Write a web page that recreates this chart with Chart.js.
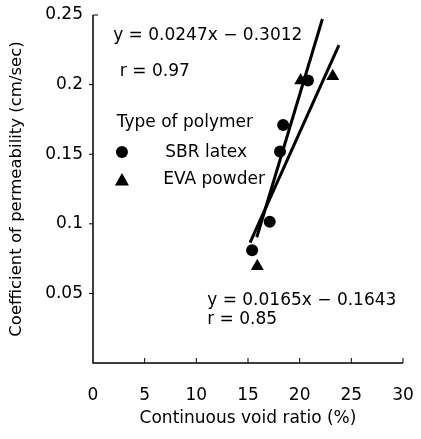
<!DOCTYPE html>
<html>
<head>
<meta charset="utf-8">
<script src="https://cdn.jsdelivr.net/npm/chart.js@4/dist/chart.umd.min.js"></script>
<style>
  html, body { margin: 0; padding: 0; background: #fff; }
  #wrap { width: 421px; height: 439px; }
</style>
</head>
<body>
<div id="wrap"><canvas id="chart" width="421" height="439"></canvas></div>
<script>
// values
const xTicks = [0, 5, 10, 15, 20, 25, 30];
const yTicks = [0, 0.05, 0.1, 0.15, 0.2, 0.25];

const sbrX = [15.4, 17.1, 18.1, 18.4, 20.8];
const sbrY = [0.081, 0.1015, 0.152, 0.171, 0.203];

const evaX = [15.9, 20.1, 23.2];
const evaY = [0.0695, 0.203, 0.206];

// fitted lines, end points as drawn
const sbrFitX = [15.85, 22.2];
const sbrFitY = [0.0903, 0.2471];
const evaFitX = [15.2, 23.8];
const evaFitY = [0.0865, 0.2284];

const notes = [
    { text: 'y = 0.0247x \u2212 0.3012', x: 1.95, y: 0.235 },
    { text: 'r = 0.97', x: 2.6, y: 0.209 },
    { text: 'Type of polymer', x: 2.3, y: 0.1725 },
    { text: 'SBR latex', x: 7.0, y: 0.1515 },
    { text: 'EVA powder', x: 6.8, y: 0.1315 },
    { text: 'y = 0.0165x \u2212 0.1643', x: 11.05, y: 0.0445 },
    { text: 'r = 0.85', x: 11.05, y: 0.0315 }
];
const legendMarks = [
    { style: 'circle', x: 2.8, y: 0.1515 },
    { style: 'triangle', x: 2.8, y: 0.1315 }
];

const FAMILY = '"DejaVu Sans", "Liberation Sans", Arial, sans-serif';
const FONT = '17px ' + FAMILY;
const pts = (xs, ys) => xs.map((x, i) => ({ x: x, y: ys[i] }));

const axesPlugin = {
    id: 'axes',
    afterDraw(chart) {
        const ctx = chart.ctx;
        const xs = chart.scales.x, ys = chart.scales.y;
        const a = chart.chartArea;
        ctx.save();
        ctx.strokeStyle = '#000';
        ctx.lineWidth = 1.5;
        ctx.beginPath();
        ctx.moveTo(a.left, a.top);
        ctx.lineTo(a.left, a.bottom);
        ctx.lineTo(a.right, a.bottom);
        ctx.stroke();
        ctx.lineWidth = 1;
        ctx.beginPath();
        xTicks.forEach(v => {
            if (v === 0) return;
            const px = xs.getPixelForValue(v);
            ctx.moveTo(px, a.bottom);
            ctx.lineTo(px, a.bottom - 5);
        });
        yTicks.forEach(v => {
            if (v === 0) return;
            const py = ys.getPixelForValue(v);
            if (v === 0.25) { ctx.moveTo(a.left, py); ctx.lineTo(a.left + 5, py); }
            else { ctx.moveTo(a.left, py); ctx.lineTo(a.left - 4, py); }
        });
        ctx.stroke();

        ctx.fillStyle = '#000';
        ctx.font = FONT;
        ctx.textBaseline = 'middle';
        ctx.textAlign = 'left';
        notes.forEach(n => ctx.fillText(n.text, xs.getPixelForValue(n.x), ys.getPixelForValue(n.y)));
        legendMarks.forEach(m => {
            const px = xs.getPixelForValue(m.x), py = ys.getPixelForValue(m.y);
            ctx.beginPath();
            if (m.style === 'circle') {
                ctx.arc(px, py, 6, 0, Math.PI * 2);
            } else {
                ctx.moveTo(px, py - 7);
                ctx.lineTo(px + 7, py + 5.5);
                ctx.lineTo(px - 7, py + 5.5);
                ctx.closePath();
            }
            ctx.fill();
        });
        ctx.restore();
    }
};

new Chart(document.getElementById('chart'), {
    type: 'scatter',
    data: {
        datasets: [
            { label: 'SBR fit', type: 'line', data: pts(sbrFitX, sbrFitY), borderColor: '#000', borderWidth: 3, pointRadius: 0, showLine: true, fill: false },
            { label: 'EVA fit', type: 'line', data: pts(evaFitX, evaFitY), borderColor: '#000', borderWidth: 3, pointRadius: 0, showLine: true, fill: false },
            { label: 'SBR latex', data: pts(sbrX, sbrY), pointStyle: 'circle', pointRadius: 6, backgroundColor: '#000', borderColor: '#000', borderWidth: 0 },
            { label: 'EVA powder', data: pts(evaX, evaY), pointStyle: 'triangle', pointRadius: 7.5, backgroundColor: '#000', borderColor: '#000', borderWidth: 0 }
        ]
    },
    options: {
        responsive: false,
        animation: false,
        layout: { padding: { top: 15, right: 18, bottom: 0, left: 7 } },
        plugins: { legend: { display: false }, tooltip: { enabled: false } },
        scales: {
            x: {
                type: 'linear', min: 0, max: 30,
                afterFit(s) { s.height = 76; s.paddingLeft = 0; s.paddingRight = 0; },
                afterBuildTicks(s) { s.ticks = xTicks.map(v => ({ value: v })); },
                grid: { display: false, drawTicks: false },
                border: { display: false },
                ticks: { color: '#000', font: { family: FAMILY, size: 17 }, padding: 22, maxRotation: 0 },
                title: { display: true, text: 'Continuous void ratio (%)', color: '#000', font: { family: FAMILY, size: 17 }, padding: { top: 2, bottom: 10 } }
            },
            y: {
                type: 'linear', min: 0, max: 0.25,
                afterFit(s) { s.width = 86; s.paddingTop = 0; s.paddingBottom = 0; },
                afterBuildTicks(s) { s.ticks = yTicks.map(v => ({ value: v })); },
                grid: { display: false, drawTicks: false },
                border: { display: false },
                ticks: { color: '#000', font: { family: FAMILY, size: 17 }, padding: 10,
                    callback: v => v === 0 ? '' : String(v) },
                title: { display: true, text: 'Coefficient of permeability (cm/sec)', color: '#000', font: { family: FAMILY, size: 16.5 }, padding: { top: 0, bottom: 0 } }
            }
        }
    },
    plugins: [axesPlugin]
});
</script>
</body>
</html>
